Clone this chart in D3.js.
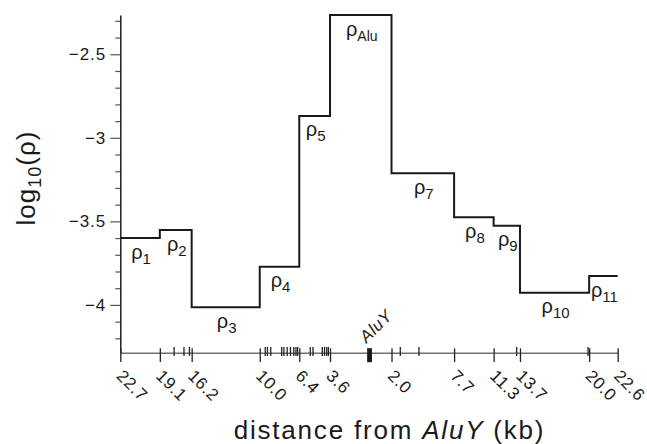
<!DOCTYPE html>
<html><head><meta charset="utf-8">
<script src="https://cdn.jsdelivr.net/npm/d3@7"></script>
<style>
body{margin:0;background:#fff}
svg text{font-family:"Liberation Sans",Arial,Helvetica,sans-serif;fill:#1a1a1a}
</style>
</head><body>
<svg id="chart" width="647" height="444"></svg>
<script>
// ---- data ----
const boundaryKb = [-22.7, -19.1, -16.2, -10.0, -6.4, -3.6, 2.0, 7.7, 11.3, 13.7, 20.0, 22.6];
const boundaryLabels = ["22.7","19.1","16.2","10.0","6.4","3.6","2.0","7.7","11.3","13.7","20.0","22.6"];
const segmentNames = ["1","2","3","4","5","Alu","7","8","9","10","11"];
const logRho = [-3.600, -3.552, -4.014, -3.771, -2.869, -2.265, -3.212, -3.476, -3.526, -3.927, -3.827];
const markerKb = [-17.8, -16.9, -16.4, -9.5, -9.3, -9.0, -8.0, -7.8, -7.5, -7.2, -6.9, -6.7, -6.55,
                  -5.4, -5.15, -4.3, -4.1, -3.9, -3.75, 2.8, 4.5, 13.4, 19.9];
const aluYExtent = [-0.22, 0.22];
const yMajorTicks = [-2.5, -3, -3.5, -4];
const yMinorTicks = [-2.3,-2.4,-2.6,-2.7,-2.8,-2.9,-3.1,-3.2,-3.3,-3.4,-3.6,-3.7,-3.8,-3.9,-4.1,-4.2];
const xDomain = [-22.7, 22.6];
const yDomain = [-4.286, -2.265];

// ---- layout ----
const svg = d3.select("#chart");
const mLeft = 120.3, mRight = 617.7, mTop = 15, mBottom = 352.7;
const x = d3.scaleLinear().domain(xDomain).range([mLeft, mRight]);
const y = d3.scaleLinear().domain(yDomain).range([mBottom, mTop]);

// y axis minor ticks
const yMinor = svg.append("g").attr("transform", `translate(${mLeft},0)`)
  .call(d3.axisLeft(y).tickValues(yMinorTicks).tickSize(5).tickSizeOuter(0).tickFormat(""));
yMinor.select(".domain").remove();
yMinor.selectAll(".tick line").attr("stroke", "#555").attr("stroke-width", 1.2);

// y axis major
const yAx = svg.append("g").attr("transform", `translate(${mLeft},0)`)
  .call(d3.axisLeft(y).tickValues(yMajorTicks).tickSize(10).tickSizeOuter(0).tickPadding(4).tickFormat(d3.format(".1~f")));
yAx.select(".domain").attr("stroke", "#111").attr("stroke-width", 1.4);
yAx.selectAll(".tick line").attr("stroke", "#555").attr("stroke-width", 1.2);
yAx.selectAll(".tick text").attr("font-size", 17).attr("letter-spacing", 1)
  .attr("font-family", '"Liberation Sans",Arial,sans-serif').attr("fill", "#1a1a1a");

// x axis
const xAx = svg.append("g").attr("transform", `translate(0,${mBottom})`)
  .call(d3.axisBottom(x).tickValues(boundaryKb).tickSize(9.4).tickSizeOuter(0)
        .tickFormat((d, i) => boundaryLabels[i]));
xAx.select(".domain").attr("stroke", "#707070").attr("stroke-width", 1.5);
xAx.selectAll(".tick line").attr("y1", -4.4).attr("stroke", "#222").attr("stroke-width", 1.3);
xAx.selectAll(".tick text")
  .attr("x", 0).attr("y", 0).attr("dy", "0.35em")
  .attr("text-anchor", "start")
  .attr("transform", "translate(-1,20) rotate(45)")
  .attr("font-size", 17).attr("letter-spacing", 0.6)
  .attr("font-family", '"Liberation Sans",Arial,sans-serif').attr("fill", "#1a1a1a");

// short marker ticks
svg.append("g").selectAll("line").data(markerKb).join("line")
  .attr("x1", d => x(d)).attr("x2", d => x(d))
  .attr("y1", mBottom - 5.8).attr("y2", mBottom + 3.2)
  .attr("stroke", "#222").attr("stroke-width", 1.3);

// AluY bar
svg.append("rect")
  .attr("x", x(aluYExtent[0])).attr("width", x(aluYExtent[1]) - x(aluYExtent[0]))
  .attr("y", mBottom - 4.5).attr("height", 14)
  .attr("fill", "#1a1a1a");
svg.append("text")
  .attr("transform", `translate(${x(0) - 3},${mBottom - 9}) rotate(-45)`)
  .attr("font-size", 17).attr("font-style", "italic").attr("letter-spacing", 0.5)
  .text("AluY");

// step line
const pts = boundaryKb.slice(0, -1).map((b, i) => [b, logRho[i]]);
pts.push([boundaryKb[boundaryKb.length - 1], logRho[logRho.length - 1]]);
svg.append("path")
  .attr("d", d3.line().x(d => x(d[0])).y(d => y(d[1])).curve(d3.curveStepAfter)(pts))
  .attr("fill", "none").attr("stroke", "#1a1a1a").attr("stroke-width", 2)
  .attr("stroke-linejoin", "miter");

// rho labels
segmentNames.forEach((name, i) => {
  const cx = x((boundaryKb[i] + boundaryKb[i + 1]) / 2);
  const ly = y(logRho[i]) + 20.5;
  const t = svg.append("text").attr("x", cx + 1).attr("y", ly).attr("text-anchor", "middle");
  t.append("tspan").attr("font-size", 20).text("ρ");
  t.append("tspan").attr("font-size", name === "Alu" ? 14 : 15).attr("dy", 5).text(name);
});

// axis titles
const yt = svg.append("text")
  .attr("transform", "translate(35,178) rotate(-90)")
  .attr("text-anchor", "middle").attr("font-size", 26).attr("letter-spacing", 1);
yt.append("tspan").text("log");
yt.append("tspan").attr("font-size", 18).attr("dy", 6).text("10");
yt.append("tspan").attr("dy", -6).text("(ρ)");

const xt = svg.append("text")
  .attr("x", 389.5).attr("y", 439)
  .attr("text-anchor", "middle").attr("font-size", 26).attr("letter-spacing", 1.8);
xt.append("tspan").text("distance from ");
xt.append("tspan").attr("font-style", "italic").text("AluY");
xt.append("tspan").text(" (kb)");
</script>
</body></html>
